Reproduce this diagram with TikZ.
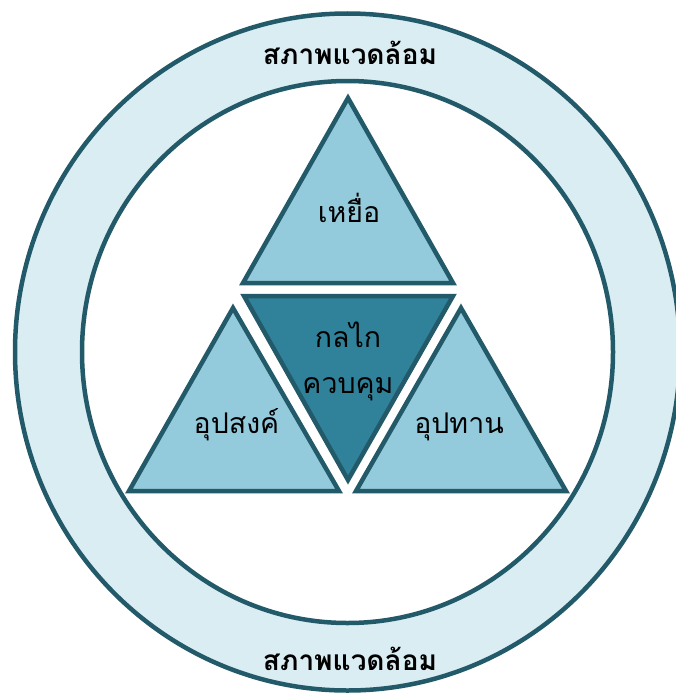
\documentclass[tikz,border=0pt]{standalone}
\usepackage{fontspec}
\newfontfamily\thaifont[Script=Thai]{Loma}
\definecolor{edge}{HTML}{235A6A}
\definecolor{ringfill}{HTML}{DAEDF3}
\definecolor{trifill}{HTML}{94CBDC}
\definecolor{centerfill}{HTML}{30829B}
\tikzset{
  ring/.style={draw=edge, line width=4.5pt, fill=ringfill},
  inner/.style={draw=edge, line width=4.5pt, fill=white},
  tri/.style={draw=edge, line width=4.5pt, fill=trifill, line join=miter},
  ctri/.style={draw=edge, line width=4.5pt, fill=centerfill, line join=miter},
  lbl/.style={font=\thaifont\fontsize{28.5}{46}\selectfont, text=black, inner sep=0pt, anchor=base},
  toplbl/.style={font=\thaifont\bfseries\fontsize{28}{32}\selectfont, text=black, inner sep=0pt, anchor=base}
}
\begin{document}
\begin{tikzpicture}[x=1pt,y=-1pt]
\useasboundingbox (0,0) rectangle (675,693);
\coordinate (c) at (347.5,352);
\draw[ring] (c) ellipse [x radius=332.5, y radius=338.5];
\draw[inner] (c) ellipse [x radius=265.5, y radius=271];
% triangles
\draw[tri] (348,98) -- (453,283) -- (243,283) -- cycle;
\draw[ctri] (244,296) -- (453,296) -- (348,480) -- cycle;
\draw[tri] (233,308) -- (339,491) -- (129,491) -- cycle;
\draw[tri] (461,308) -- (566,491) -- (356,491) -- cycle;
% labels
\node[toplbl] (envtop) at (350,65) {สภาพแวดล้อม};
\node[toplbl] (envbot) at (350,670) {สภาพแวดล้อม};
\node[lbl] (prey) at (349,222) {เหยื่อ};
\node[lbl, align=center] (ctrl) at (348,393) {กลไก\\ควบคุม};
\node[lbl] (demand) at (236.5,433) {อุปสงค์};
\node[lbl] (supply) at (459,433) {อุปทาน};
\end{tikzpicture}
\end{document}
